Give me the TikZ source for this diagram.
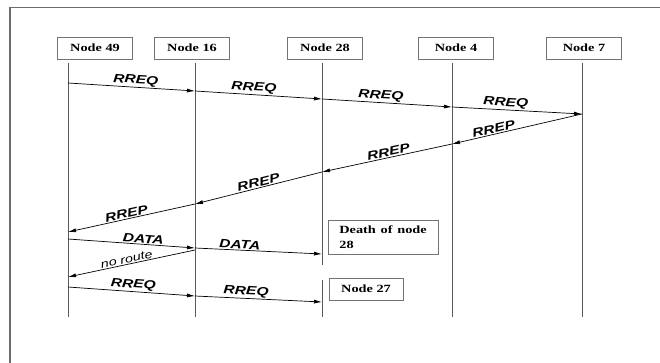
\documentclass[tikz,border=0pt]{standalone}
\usepackage{graphicx}
\usepackage{fontspec}
\setmainfont{Liberation Serif}
\setsansfont{Liberation Sans}
\usetikzlibrary{arrows.meta}

\newcommand{\wide}[1]{\scalebox{1.3}[1]{#1}}

\tikzset{
    nodebox/.style={draw=gray!90!black, line width=0.7pt, minimum width=75pt, minimum height=22pt,
        inner sep=0pt, font=\fontsize{11}{15}\selectfont\bfseries},
    life/.style={draw=black!65, line width=0.9pt},
    msg/.style={-{Latex[length=8pt,width=4pt]}, line width=0.7pt},
    lbl/.style={sloped, above, inner sep=1pt, font=\fontsize{12}{14}\selectfont\sffamily\bfseries\itshape}
}

\begin{document}
\begin{tikzpicture}[x=1pt,y=-1pt]
    \useasboundingbox (0,0) rectangle (660,363);
    \draw[gray!85!black, line width=1.2pt] (10,363) -- (10,7.5) -- (660,7.5);

    \node[nodebox] (n49) at (95,48) {\wide{Node 49}};
    \node[nodebox] (n16) at (192,48) {\wide{Node 16}};
    \node[nodebox] (n28) at (325,48) {\wide{Node 28}};
    \node[nodebox] (n4) at (456,48) {\wide{Node 4}};
    \node[nodebox] (n7) at (584,48) {\wide{Node 7}};

    % lifelines
    \foreach \n/\x in {49/68,16/195,28/322,4/452,7/582}{
        \coordinate (top\n) at (\x,63);
        \coordinate (bot\n) at (\x,317);
    }
    \coordinate (cut28a) at (322,265);
    \coordinate (cut28b) at (322,280);
    \draw[life] (top49) -- (bot49);
    \draw[life] (top16) -- (bot16);
    \draw[life] (top28) -- (cut28a);
    \draw[life] (cut28b) -- (bot28);
    \draw[life] (top4) -- (bot4);
    \draw[life] (top7) -- (bot7);

    % message points
    \coordinate (a49) at (68,83);
    \coordinate (a16) at (195,91);
    \coordinate (a28) at (322,99);
    \coordinate (a4) at (452,107);
    \coordinate (a7) at (582,114);
    \coordinate (b4) at (452,144);
    \coordinate (b28) at (322,172);
    \coordinate (b16) at (195,204);
    \coordinate (b49) at (68,232);
    \coordinate (c49) at (68,239);
    \coordinate (c16) at (195,248);
    \coordinate (c28) at (322,254);
    \coordinate (d16) at (195,250);
    \coordinate (d49) at (68,277);
    \coordinate (e49) at (68,287);
    \coordinate (e16) at (195,296);
    \coordinate (e28) at (322,302);

    % route request
    \draw[msg] (a49) -- node[lbl, pos=0.53] {\wide{RREQ}} (a16);
    \draw[msg] (a16) -- node[lbl, pos=0.46] {\wide{RREQ}} (a28);
    \draw[msg] (a28) -- node[lbl, pos=0.45] {\wide{RREQ}} (a4);
    \draw[msg] (a4) -- node[lbl, pos=0.41] {\wide{RREQ}} (a7);

    % route reply
    \draw[msg] (a7) -- node[lbl, pos=0.67] {\wide{RREP}} (b4);
    \draw[msg] (b4) -- node[lbl, pos=0.48] {\wide{RREP}} (b28);
    \draw[msg] (b28) -- node[lbl, pos=0.49] {\wide{RREP}} (b16);
    \draw[msg] (b16) -- node[lbl, pos=0.53] {\wide{RREP}} (b49);

    % data
    \draw[msg] (c49) -- node[lbl, pos=0.59] {\wide{DATA}} (c16);
    \draw[msg] (c16) -- node[lbl, pos=0.35] {\wide{DATA}} (c28);
    \draw[msg] (d16) -- node[lbl, pos=0.53, font=\fontsize{11}{13}\selectfont\sffamily\itshape] {\wide{no route}} (d49);
    \draw[msg] (e49) -- node[lbl, pos=0.51] {\wide{RREQ}} (e16);
    \draw[msg] (e16) -- node[lbl, pos=0.40] {\wide{RREQ}} (e28);

    \node[nodebox, anchor=north west, minimum width=110pt, minimum height=34pt,
        align=left, inner xsep=11pt, text width=88pt] (death) at (328,220)
        {\wide{Death of node}\\\wide{28}};
    \node[nodebox, minimum width=74pt] (n27) at (366,289) {\wide{Node 27}};
\end{tikzpicture}
\end{document}
